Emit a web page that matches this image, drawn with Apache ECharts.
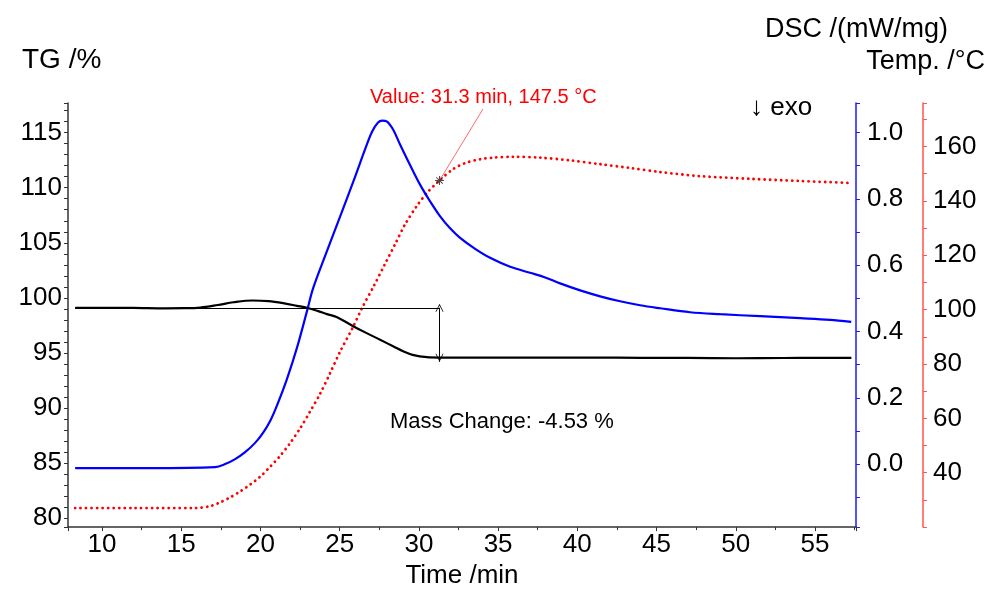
<!DOCTYPE html>
<html>
<head>
<meta charset="utf-8">
<script src="https://cdn.jsdelivr.net/npm/echarts@6/dist/echarts.min.js"></script>
<style>
  html, body { margin: 0; padding: 0; background: #fff; }
  #chart { width: 995px; height: 594px; }
</style>
</head>
<body>
<div id="chart"></div>
<script>
// ---- data ----
const tgTime   = [8.3, 10, 12, 14, 15.2, 16.2, 17.3, 18.3, 19.5, 20.5, 21.5, 22.3, 22.94, 23.6, 24.2, 24.8, 25.85, 26.7, 27.55, 28.4, 29.0, 29.6, 30.5, 31.5, 33, 35, 38, 41, 44, 47, 50, 53, 55, 57.3];
const tgValues = [99.10, 99.10, 99.09, 99.05, 99.06, 99.12, 99.35, 99.60, 99.76, 99.70, 99.50, 99.28, 99.10, 98.82, 98.52, 98.26, 97.43, 96.80, 96.20, 95.58, 95.15, 94.83, 94.62, 94.58, 94.57, 94.57, 94.58, 94.58, 94.56, 94.55, 94.52, 94.54, 94.55, 94.55];

const dscTime   = [8.3, 13.03, 17.13, 17.77, 18.40, 19.03, 19.66, 20.17, 20.61, 21.05, 21.68, 22.31, 22.94, 23.32, 24.08, 25.03, 25.97, 26.60, 27.05, 27.42, 27.68, 27.99, 28.37, 28.81, 29.44, 30.08, 30.71, 31.34, 31.97, 32.60, 33.55, 34.49, 35.76, 37.02, 37.97, 38.91, 40.18, 41.44, 42.70, 43.96, 45.23, 47.12, 49.02, 51.54, 54.07, 55.96, 57.29];
const dscValues = [-0.012, -0.012, -0.009, 0.000, 0.015, 0.036, 0.064, 0.095, 0.130, 0.178, 0.258, 0.352, 0.462, 0.530, 0.628, 0.747, 0.866, 0.949, 1.003, 1.030, 1.036, 1.033, 1.009, 0.964, 0.902, 0.842, 0.792, 0.747, 0.711, 0.682, 0.649, 0.622, 0.595, 0.577, 0.563, 0.545, 0.524, 0.506, 0.491, 0.479, 0.470, 0.458, 0.452, 0.446, 0.440, 0.435, 0.429];

const tempTime   = [8.3, 12, 15.9, 16.82, 17.45, 18.08, 18.71, 19.34, 19.97, 20.61, 21.24, 21.87, 22.50, 23.13, 23.76, 24.39, 25.03, 25.85, 26.41, 27.11, 27.87, 28.50, 29.13, 29.89, 30.52, 31.3, 32.16, 32.92, 33.86, 34.68, 35.95, 37.65, 39.55, 41.44, 43.33, 45.23, 47.75, 50.91, 54.07, 57.22];
const tempValues = [27.0, 27.0, 27.0, 27.7, 29.1, 30.9, 33.1, 35.6, 38.5, 42.2, 46.2, 50.9, 56.3, 62.5, 69.0, 76.6, 84.6, 93.7, 100.6, 108.2, 116.9, 124.1, 131.4, 138.3, 143.0, 147.5, 151.7, 153.9, 155.3, 155.9, 156.2, 155.9, 154.9, 153.5, 152.1, 150.6, 149.1, 148.1, 147.3, 146.6];

const markerTime = 31.3, markerTemp = 147.5;
const tgStartTime = 8.3, tgBase = 99.10, tgEnd = 94.57, tgArrowLow = 94.2;

const xTicksInterval = 5, tgInterval = 5, dscInterval = 0.2, tempInterval = 20;

const zip = (a, b) => a.map((v, i) => [v, b[i]]);

const FONT = "'Liberation Sans', Arial, sans-serif";
const chart = echarts.init(document.getElementById('chart'), null, { renderer: 'canvas' });

const plusX = 'path://M4.4,0 L5.6,0 L5.6,4.4 L10,4.4 L10,5.6 L5.6,5.6 L5.6,10 L4.4,10 L4.4,5.6 L0,5.6 L0,4.4 L4.4,4.4 Z M1,1.8 L1.8,1 L5,4.2 L8.2,1 L9,1.8 L5.8,5 L9,8.2 L8.2,9 L5,5.8 L1.8,9 L1,8.2 L4.2,5 Z';
const chevron = 'path://M5,0 L10,10 L9,10 L5,2 L1,10 L0,10 Z';

const labelStyle = { color: '#000', fontFamily: FONT, fontSize: 26 };

chart.setOption({
  animation: false,
  backgroundColor: '#fff',
  grid: { left: 68, right: 139, top: 103, bottom: 61, containLabel: false },
  xAxis: {
    type: 'value', min: 7.85, max: 57.59,
    minInterval: xTicksInterval, maxInterval: xTicksInterval,
    name: 'Time /min', nameLocation: 'middle', nameGap: 32,
    nameTextStyle: { color: '#000', fontFamily: FONT, fontSize: 26 },
    axisLine: { show: true, onZero: false, lineStyle: { color: '#333', width: 1.5 } },
    axisTick: { show: true, length: 4, lineStyle: { color: '#333' } },
    minorTick: { show: true, splitNumber: 2, length: 3, lineStyle: { color: '#333' } },
    splitLine: { show: false },
    axisLabel: Object.assign({ margin: 5, showMinLabel: false, showMaxLabel: false }, labelStyle)
  },
  yAxis: [
    {
      type: 'value', min: 79.19, max: 117.69, position: 'left',
      minInterval: tgInterval, maxInterval: tgInterval,
      axisLine: { show: true, onZero: false, lineStyle: { color: '#333', width: 1.5 } },
      axisTick: { show: true, length: 4, lineStyle: { color: '#333' } },
      minorTick: { show: true, splitNumber: 5, length: 4, lineStyle: { color: '#333' } },
      splitLine: { show: false },
      axisLabel: Object.assign({ margin: 6, showMinLabel: false, showMaxLabel: false }, labelStyle)
    },
    {
      type: 'value', min: -0.19, max: 1.089, position: 'right',
      minInterval: dscInterval, maxInterval: dscInterval,
      axisLine: { show: true, onZero: false, lineStyle: { color: '#1a1aff', width: 1.5 } },
      axisTick: { show: true, length: 4, lineStyle: { color: '#1a1aff' } },
      minorTick: { show: true, splitNumber: 2, length: 4, lineStyle: { color: '#1a1aff' } },
      splitLine: { show: false },
      axisLabel: Object.assign({ margin: 11, showMinLabel: false, showMaxLabel: false,
        formatter: v => v.toFixed(1) }, labelStyle)
    },
    {
      type: 'value', min: 20, max: 176, position: 'right', offset: 67,
      minInterval: tempInterval, maxInterval: tempInterval,
      axisLine: { show: true, onZero: false, lineStyle: { color: '#ff5555', width: 1.5 } },
      axisTick: { show: true, length: 4, lineStyle: { color: '#ff5555' } },
      minorTick: { show: true, splitNumber: 2, length: 4, lineStyle: { color: '#ff5555' } },
      splitLine: { show: false },
      axisLabel: Object.assign({ margin: 10, showMinLabel: false, showMaxLabel: false,
        formatter: v => (v < 30 ? '' : String(v)) }, labelStyle)
    }
  ],
  series: [
    {
      name: 'Temp', type: 'line', yAxisIndex: 2, data: zip(tempTime, tempValues),
      showSymbol: false, smooth: 0.3, z: 2,
      lineStyle: { color: '#ff0000', width: 2.8, type: [0.1, 5.4], cap: 'round' },
      markLine: {
        silent: true, symbol: ['none', 'none'], animation: false,
        label: { show: false },
        lineStyle: { color: '#ff6a6a', width: 1, type: 'solid' },
        data: [[{ coord: [markerTime, markerTemp] }, { x: 483, y: 109 }]]
      }
    },
    {
      name: 'DSC', type: 'line', yAxisIndex: 1, data: zip(dscTime, dscValues),
      showSymbol: false, smooth: 0.35, z: 3,
      lineStyle: { color: '#0000ff', width: 2.2 }
    },
    {
      name: 'TG', type: 'line', yAxisIndex: 0, data: zip(tgTime, tgValues),
      showSymbol: false, smooth: 0.35, z: 4,
      lineStyle: { color: '#000', width: 2.2 },
      markLine: {
        silent: true, animation: false, label: { show: false },
        lineStyle: { color: '#000', width: 1, type: 'solid' },
        data: [
          [{ coord: [tgStartTime, tgBase], symbol: 'none' }, { coord: [markerTime, tgBase], symbol: 'none' }],
          [{ coord: [markerTime, tgBase], symbol: chevron, symbolSize: [8, 8] },
           { coord: [markerTime, tgEnd], symbol: chevron, symbolSize: [8, 8] }],
          [{ coord: [markerTime, tgEnd], symbol: 'none' }, { coord: [markerTime, tgArrowLow], symbol: 'none' }]
        ]
      }
    },
    {
      name: 'marker', type: 'scatter', yAxisIndex: 2,
      data: [[markerTime, markerTemp]], symbol: plusX, symbolSize: 9, z: 6,
      itemStyle: { color: '#222' }, silent: true
    }
  ],
  graphic: [
    { type: 'text', left: 22, top: 46, style: { text: 'TG /%', font: '28px ' + FONT, fill: '#000' } },
    { type: 'text', right: 47, top: 16, style: { text: 'DSC /(mW/mg)', font: '27px ' + FONT, fill: '#000' } },
    { type: 'text', right: 10, top: 48, style: { text: 'Temp. /°C', font: '27px ' + FONT, fill: '#000' } },
    { type: 'text', left: 750, top: 95, style: { text: '↓ exo', font: '26px ' + FONT, fill: '#000' } },
    { type: 'text', left: 370, top: 87, style: { text: 'Value: 31.3 min, 147.5 °C', font: '20px ' + FONT, fill: '#ff0000' } },
    { type: 'text', left: 390, top: 411, style: { text: 'Mass Change: -4.53 %', font: '22px ' + FONT, fill: '#000' } }
  ]
});
</script>
</body>
</html>
